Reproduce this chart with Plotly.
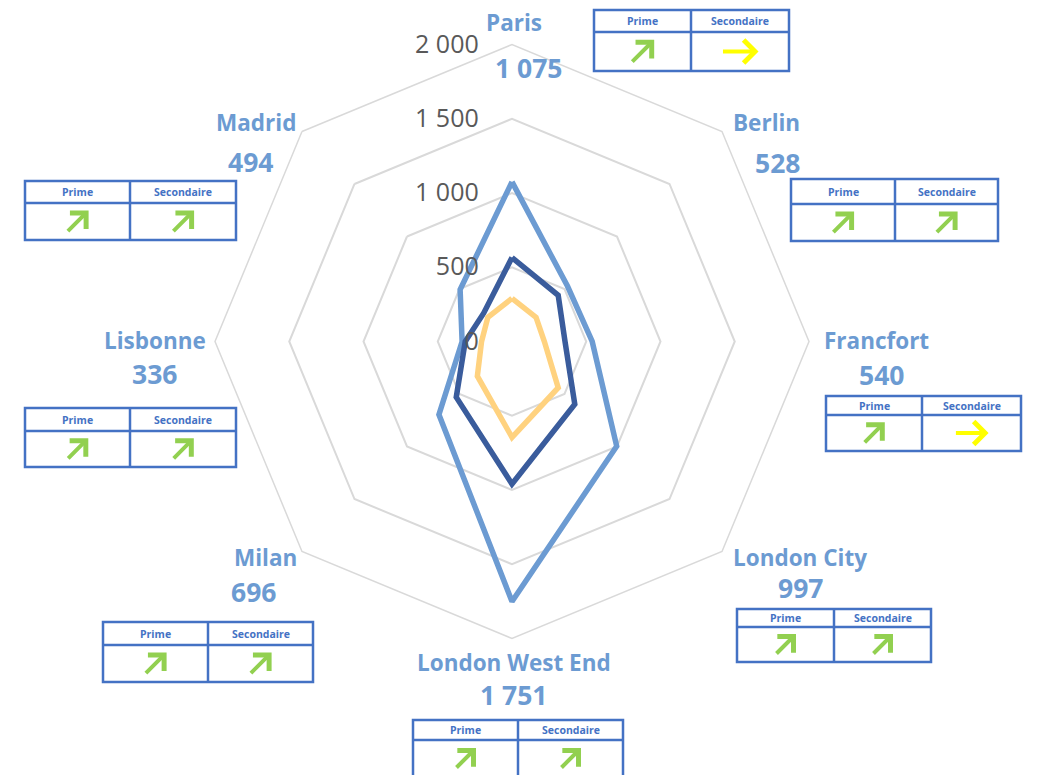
import plotly.graph_objects as go

# ---------------- data ----------------
categories = ["Paris", "Berlin", "Francfort", "London City",
              "London West End", "Milan", "Lisbonne", "Madrid"]
series_max = [1075, 528, 540, 997, 1751, 696, 336, 494]
series_mid = [565, 440, 357, 598, 960, 531, 315, 270]
series_low = [290, 229, 218, 440, 645, 330, 205, 230]
radial_ticks = [0, 500, 1000, 1500, 2000]
radial_ticktext = ["0", "500", "1 000", "1 500", "2 000"]
trend_prime = ["up", "up", "up", "up", "up", "up", "up", "up"]
trend_secondaire = ["flat", "up", "flat", "up", "up", "up", "up", "up"]
table_headers = ["Prime", "Secondaire"]

# ---------------- layout helpers ----------------
W, H = 1040, 775
OFF = 8  # page body margin
def px(x):
    return (x - OFF) / W
def py(y):
    return 1 - (y - OFF) / H

cx, cy, R = 512, 341.5, 297

# label positions (pixel centres in the page): name, value
label_pos = [((514, 22), (529, 68)),
             ((766, 122), (777, 163)),
             ((876, 340), (881, 375)),
             ((800, 557), (800, 588)),
             ((514, 662), (514, 695)),
             ((265, 557), (253, 592)),
             ((155, 340), (154, 374)),
             ((256, 122), (250, 162))]

# tables: x0, y0, x1, y1, header line y, divider x
tables = [(594, 10, 789, 71, 32, 691),
          (791, 179, 998, 241, 204, 895),
          (826, 396, 1021, 451, 415, 922),
          (737, 609, 931, 662, 627, 834),
          (413, 720, 623, 778, 740, 518),
          (103, 622, 313, 682, 645, 208),
          (25, 408, 236, 467, 431, 130),
          (25, 181, 236, 240, 203, 130)]

LIGHT = "#6C9BD2"
DARK = "#3A5C9C"
ORANGE = "#FFD27F"
GRID = "#D9D9D9"
TBL = "#4472C4"
GREEN = "#92D050"
YELLOW = "#FFFF00"

fig = go.Figure()

def closed(v):
    return list(v) + [v[0]]

theta = closed(categories)
for name, vals, col in [("Max", series_max, LIGHT),
                        ("Moyen", series_mid, DARK),
                        ("Min", series_low, ORANGE)]:
    fig.add_trace(go.Scatterpolar(r=closed(vals), theta=theta, mode="lines",
                                  name=name, line=dict(color=col, width=5.5),
                                  hoverinfo="skip"))

annotations = []
shapes = []

for i, cat in enumerate(categories):
    (nx, ny), (vx, vy) = label_pos[i]
    annotations.append(dict(x=px(nx), y=py(ny), xref="paper", yref="paper",
                            text=f"<b>{cat}</b>", showarrow=False,
                            font=dict(family="Open Sans", size=22.5, color=LIGHT),
                            xanchor="center", yanchor="middle", borderpad=0))
    vtxt = f"{series_max[i]:,}".replace(",", " ")
    annotations.append(dict(x=px(vx), y=py(vy), xref="paper", yref="paper",
                            text=f"<b>{vtxt}</b>", showarrow=False,
                            font=dict(family="Open Sans", size=26.5, color=LIGHT),
                            xanchor="center", yanchor="middle"))

    x0, y0, x1, y1, yh, xd = tables[i]
    shapes.append(dict(type="rect", xref="paper", yref="paper",
                       x0=px(x0), x1=px(x1), y0=py(y0), y1=py(y1),
                       line=dict(color=TBL, width=2.5)))
    shapes.append(dict(type="line", xref="paper", yref="paper",
                       x0=px(x0), x1=px(x1), y0=py(yh), y1=py(yh),
                       line=dict(color=TBL, width=2.5)))
    shapes.append(dict(type="line", xref="paper", yref="paper",
                       x0=px(xd), x1=px(xd), y0=py(y0), y1=py(y1),
                       line=dict(color=TBL, width=2.5)))
    for j, (a, b) in enumerate([(x0, xd), (xd, x1)]):
        annotations.append(dict(x=px((a + b) / 2), y=py((y0 + yh) / 2),
                                xref="paper", yref="paper",
                                text=f"<b>{table_headers[j]}</b>", showarrow=False,
                                font=dict(family="Open Sans", size=10.5, color=TBL),
                                xanchor="center", yanchor="middle"))
        trend = trend_prime[i] if j == 0 else trend_secondaire[i]
        bh = min(y1, 775) - yh
        ccx = (a + b) / 2
        ccy = (yh + min(y1, 777)) / 2
        if trend == "up":
            d = 0.6 * bh
            annotations.append(dict(x=px(ccx + d / 2), y=py(ccy - d / 2),
                                    xref="paper", yref="paper", text="",
                                    showarrow=True, ax=-d, ay=d,
                                    arrowhead=4, arrowsize=1.1, arrowwidth=4,
                                    arrowcolor=GREEN, standoff=0))
        else:
            L = 0.95 * bh
            annotations.append(dict(x=px(ccx + L / 2), y=py(ccy),
                                    xref="paper", yref="paper", text="",
                                    showarrow=True, ax=-L, ay=0,
                                    arrowhead=4, arrowsize=1.1, arrowwidth=4,
                                    arrowcolor=YELLOW, standoff=0))

fig.update_layout(
    width=W, height=H, autosize=False,
    margin=dict(l=0, r=0, t=0, b=0),
    paper_bgcolor="white", plot_bgcolor="white",
    showlegend=False,
    polar=dict(
        domain=dict(x=[px(cx - R), px(cx + R)], y=[py(cy + R), py(cy - R)]),
        bgcolor="white",
        gridshape="linear",
        angularaxis=dict(direction="clockwise", rotation=90,
                         categoryorder="array", categoryarray=categories,
                         showticklabels=False, ticks="", showgrid=False,
                         showline=True, linecolor=GRID, linewidth=1.5),
        radialaxis=dict(range=[0, 2000], angle=90, side="counterclockwise",
                        tickangle=90,
                        tickvals=radial_ticks, ticktext=radial_ticktext,
                        showline=False, ticks="outside", ticklen=24,
                        tickcolor="rgba(0,0,0,0)",
                        showgrid=True, gridcolor=GRID, gridwidth=1.5,
                        tickfont=dict(family="Open Sans", size=25, color="#595959")),
    ),
    annotations=annotations,
    shapes=shapes,
)

fig.write_html("out.html")
